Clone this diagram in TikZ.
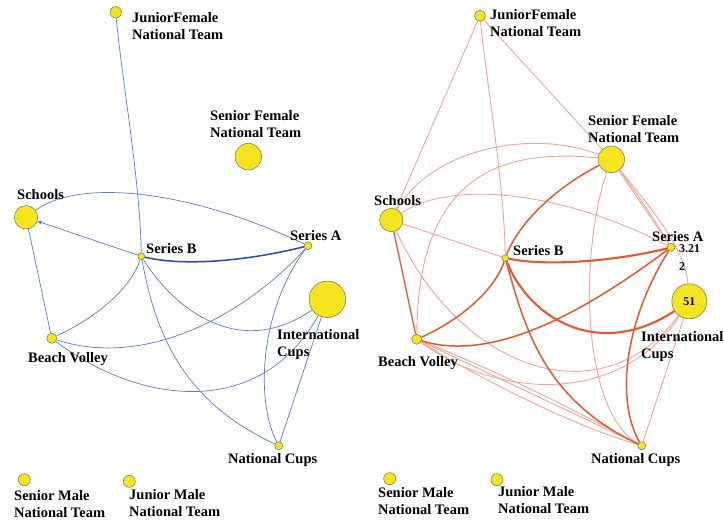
\documentclass[tikz,border=0pt]{standalone}
\usepackage{fontspec}
\setmainfont{Liberation Serif}
\usetikzlibrary{arrows.meta}
\definecolor{nodey}{RGB}{245,228,30}
\definecolor{nodeb}{RGB}{115,115,70}
\definecolor{eblue}{RGB}{85,125,215}
\definecolor{ebluedark}{RGB}{40,70,180}
\definecolor{ered}{RGB}{232,88,45}
\definecolor{elight}{RGB}{245,165,145}
\pgfdeclarelayer{bg}
\pgfsetlayers{bg,main}
\begin{document}
\begin{tikzpicture}[x=1pt,y=-1pt,
  vnode/.style={circle, fill=nodey, draw=nodeb, line width=0.5pt, inner sep=0pt},
  lbl/.style={font=\fontsize{14.5}{17}\selectfont\bfseries, align=left, anchor=base west, inner sep=0pt},
  small/.style={font=\fontsize{12}{14}\selectfont\bfseries, inner sep=0pt},
  bedge/.style={draw=eblue, line width=0.7pt},
  bthick/.style={draw=ebluedark, line width=1.5pt},
  rlight/.style={draw=elight, line width=0.9pt},
  rthick/.style={draw=ered, line width=1.5pt},
  rheavy/.style={draw=ered, line width=2.1pt}]
\useasboundingbox (0,0) rectangle (724,525);

% ---------- left panel nodes ----------
\node[vnode, minimum size=11.4pt] (lJF) at (115.7,12.3) {};
\node[vnode, minimum size=26.6pt] (lSF) at (248.3,156.7) {};
\node[vnode, minimum size=23.4pt] (lSch) at (26,217.3) {};
\node[vnode, minimum size=7pt] (lSB) at (141.3,256.3) {};
\node[vnode, minimum size=8pt] (lSA) at (308,245.7) {};
\node[vnode, minimum size=36.6pt] (lIC) at (327.3,299.3) {};
\node[vnode, minimum size=10pt] (lBV) at (51.7,338.3) {};
\node[vnode, minimum size=8pt] (lNC) at (278.7,445.7) {};
\node[vnode, minimum size=12pt] (lSM) at (24.3,479.7) {};
\node[vnode, minimum size=12pt] (lJM) at (129.3,481.3) {};

% ---------- right panel nodes ----------
\node[vnode, minimum size=11pt] (rJF) at (480,15.7) {};
\node[vnode, minimum size=26.6pt] (rSF) at (611.3,159.3) {};
\node[vnode, minimum size=23.4pt] (rSch) at (391.3,220) {};
\node[vnode, minimum size=6.6pt] (rSB) at (505.3,258) {};
\node[vnode, minimum size=8pt] (rSA) at (671,247.3) {};
\node[vnode, minimum size=35pt] (rIC) at (689.3,301.3) {};
\node[vnode, minimum size=10pt] (rBV) at (416.7,339.3) {};
\node[vnode, minimum size=8pt] (rNC) at (641.7,445.7) {};
\node[vnode, minimum size=12pt] (rSM) at (389.7,478.7) {};
\node[vnode, minimum size=12pt] (rJM) at (497,479.7) {};

\begin{pgfonlayer}{bg}
\fill[white] (0,0) rectangle (724,525);
% ---------- left edges ----------
\draw[bedge] (lJF) .. controls (122,80) and (140,180) .. (lSB);
\draw[bedge] (lSch) .. controls (80,178) and (190,190) .. (lSA);
\draw[bedge, -{Stealth[length=5pt,width=4pt]}] (lSB) -- (lSch);
\draw[bedge] (lSch) -- (lBV);
\draw[bedge] (lBV) .. controls (95,318) and (130,290) .. (lSB);
\draw[bedge] (lBV) .. controls (150,370) and (250,310) .. (lSA);
\draw[bedge] (lBV) .. controls (140,405) and (260,420) .. (lIC);
\draw[bedge] (lSB) .. controls (175,310) and (240,360) .. (lIC);
\draw[bedge] (lSB) .. controls (155,330) and (180,400) .. (lNC);
\draw[bedge] (lSA) .. controls (260,310) and (255,400) .. (lNC);
\draw[bedge] (lIC) -- (lNC);
\draw[bthick] (lSB) .. controls (190,268) and (260,258) .. (lSA);

% ---------- right edges: light ----------
\draw[rlight] (rJF) -- (rSch);
\draw[rlight] (rJF) .. controls (486,80) and (504,180) .. (rSB);
\draw[rlight] (rJF) -- (rSF);
\draw[rlight] (rSch) .. controls (430,150) and (530,128) .. (rSF);
\draw[rlight] (rBV) .. controls (418,200) and (475,145) .. (rSF);
\draw[rlight] (rSch) .. controls (450,180) and (560,190) .. (rSA);
\draw[rlight] (rSch) -- (rSB);
\draw[rlight] (rSch) .. controls (460,370) and (600,420) .. (rIC);
\draw[rlight] (rBV) .. controls (500,400) and (620,405) .. (rIC);
\draw[rlight] (rBV) -- (rNC);
\draw[rlight] (rBV) .. controls (500,372) and (570,408) .. (rNC);
\draw[rlight] (rBV) .. controls (490,385) and (580,428) .. (rNC);
\draw[rlight] (rSF) -- (rSA);
\draw[rlight] (rSF) .. controls (636,192) and (656,222) .. (rSA);
\draw[rlight] (rSF) .. controls (640,195) and (685,245) .. (rIC);
\draw[rlight] (rSF) .. controls (580,250) and (580,410) .. (rNC);
\draw[rlight] (rIC) -- (rNC);

% ---------- right edges: heavy ----------
\draw[rthick, line width=1.3pt] (rSch) -- (rBV);
\draw[rthick] (rBV) .. controls (460,320) and (495,290) .. (rSB);
\draw[rthick] (rSB) .. controls (520,220) and (560,185) .. (rSF);
\draw[rheavy] (rSB) .. controls (555,268) and (630,258) .. (rSA);
\draw[rheavy] (rSB) .. controls (530,320) and (600,360) .. (rIC);
\draw[rthick] (rSB) .. controls (525,330) and (545,400) .. (rNC);
\draw[rthick] (rBV) .. controls (500,365) and (600,300) .. (rSA);
\draw[rthick] (rSA) .. controls (625,320) and (615,400) .. (rNC);
\end{pgfonlayer}

% ---------- left labels ----------
\node[lbl] (tlJF) at (132,39.5) {JuniorFemale\\National Team};
\node[lbl] (tlSF) at (210,137) {Senior Female\\National Team};
\node[lbl] (tlSch) at (17,199) {Schools};
\node[lbl] (tlSA) at (290,240) {Series A};
\node[lbl] (tlSB) at (146,253) {Series B};
\node[lbl] (tlIC) at (277,356) {International\\Cups};
\node[lbl] (tlBV) at (28,362.6) {Beach Volley};
\node[lbl] (tlNC) at (228,463) {National Cups};
\node[lbl] (tlSM) at (14,517) {Senior Male\\National Team};
\node[lbl] (tlJM) at (129,516.5) {Junior Male\\National Team};

% ---------- right labels ----------
\node[lbl] (trJF) at (490,36.7) {JuniorFemale\\National Team};
\node[lbl] (trSF) at (588,142) {Senior Female\\National Team};
\node[lbl] (trSch) at (374,205) {Schools};
\node[lbl] (trSA) at (652,241) {Series A};
\node[small, anchor=base west] (tr321) at (679,252) {3.21};
\node[small, anchor=base west] (tr2) at (679,270) {2};
\node[small] (tr51) at (rIC) {51};
\node[lbl] (trSB) at (513,255.7) {Series B};
\node[lbl] (trIC) at (641,358.7) {International\\Cups};
\node[lbl] (trBV) at (378,366) {Beach Volley};
\node[lbl] (trNC) at (591,463) {National Cups};
\node[lbl] (trSM) at (378,514) {Senior Male\\National Team};
\node[lbl] (trJM) at (498,513.5) {Junior Male\\National Team};
\end{tikzpicture}
\end{document}
